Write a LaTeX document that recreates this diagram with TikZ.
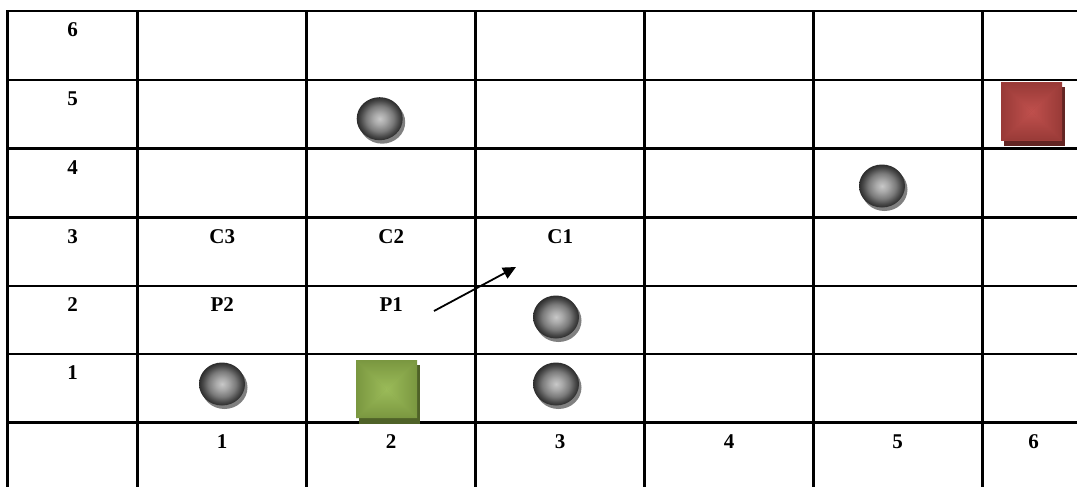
\documentclass[tikz,border=0pt]{standalone}
\usepackage{fontspec}
\setmainfont{Liberation Serif}
\usetikzlibrary{arrows.meta}

% token colours
\definecolor{ballhi}{HTML}{C8C8C8}
\definecolor{ballsoft}{HTML}{A8A8A8}
\definecolor{ballmid}{HTML}{7A7A7A}
\definecolor{ballrim}{HTML}{484848}
\definecolor{balledge}{HTML}{2C2C2C}
\definecolor{ballshadow}{HTML}{808080}
\definecolor{greenedge}{HTML}{7A9740}
\definecolor{greenmid}{HTML}{9BBB59}
\definecolor{greenshadow}{HTML}{4F6228}
\definecolor{rededge}{HTML}{983A37}
\definecolor{redmid}{HTML}{C0504D}
\definecolor{redshadow}{HTML}{632523}

\pgfdeclareradialshading{ballshade}{\pgfpoint{0bp}{0bp}}{%
  color(0bp)=(ballhi); color(7bp)=(ballsoft); color(15bp)=(ballmid);
  color(21bp)=(ballrim); color(25bp)=(balledge); color(50bp)=(balledge)}

% grey sphere with a drop shadow
\newcommand\sphere[2]{%
  \fill[ballshadow] (#1+2.5,#2+3.5) ellipse [x radius=23, y radius=21.5];
  \shade[shading=ballshade] (#1,#2) ellipse [x radius=23, y radius=21.5];
}

% square tile, darker at the rim, with a drop shadow
% #1,#2 centre; #3 rim colour; #4 centre colour; #5 shadow colour
\newcommand\gradtile[5]{%
  \begin{scope}[shift={(#1,#2)}]
    \fill[#5] (-28,-24.5) rectangle (33.5,34.5);
    \fill[#3!50!#4] (-30.5,-29) rectangle (30.5,29);
    \shade[top color=#3, bottom color=#4] (-30.5,-29) -- (30.5,-29) -- (0,0) -- cycle;
    \shade[top color=#4, bottom color=#3] (-30.5,29) -- (30.5,29) -- (0,0) -- cycle;
    \shade[left color=#3, right color=#4] (-30.5,-29) -- (-30.5,29) -- (0,0) -- cycle;
    \shade[left color=#4, right color=#3] (30.5,-29) -- (30.5,29) -- (0,0) -- cycle;
  \end{scope}
}

\tikzset{
  gridline/.style={line width=2.5pt, black},
  lbl/.style={font=\fontsize{21}{23}\selectfont\bfseries, anchor=base, inner sep=0pt},
  moveline/.style={line width=1.8pt, -{Triangle[length=13pt, width=12pt]}},
}

\begin{document}
\begin{tikzpicture}[x=1pt, y=-1pt]
  \useasboundingbox (0,0) rectangle (1077,487);
  \clip (0,0) rectangle (1077,487);
  \fill[white] (0,0) rectangle (1077,487);

  % table rules
  \draw[gridline] (1090,11) -- (7.5,11) -- (7.5,495);
  \foreach \y in {80,148.3,217.3,286,354,422.7}
    \draw[gridline] (7.5,\y) -- (1090,\y);
  \foreach \x in {137.7,306.7,475.7,644.7,813.7,982.7}
    \draw[gridline] (\x,11) -- (\x,495);

  % row numbers
  \node[lbl] (rowlab6) at (72.6,37)    {6};
  \node[lbl] (rowlab5) at (72.6,105.5) {5};
  \node[lbl] (rowlab4) at (72.6,174)   {4};
  \node[lbl] (rowlab3) at (72.6,243)   {3};
  \node[lbl] (rowlab2) at (72.6,311.5) {2};
  \node[lbl] (rowlab1) at (72.6,379.5) {1};

  % column numbers
  \node[lbl] (collab1) at (222.2,448.3) {1};
  \node[lbl] (collab2) at (391.2,448.3) {2};
  \node[lbl] (collab3) at (560.2,448.3) {3};
  \node[lbl] (collab4) at (729.2,448.3) {4};
  \node[lbl] (collab5) at (897.5,448.3) {5};
  \node[lbl] (collab6) at (1033.5,448.3) {6};

  % cell labels
  \node[lbl] (tagC3) at (222.2,243) {C3};
  \node[lbl] (tagC2) at (391.2,243) {C2};
  \node[lbl] (tagC1) at (560.2,243) {C1};
  \node[lbl] (tagP2) at (222.2,311.5) {P2};
  \node[lbl] (tagP1) at (391.2,311.5) {P1};

  % move arrow
  \coordinate (moveStart) at (434,311);
  \coordinate (moveEnd)   at (516,267);
  \draw[moveline] (moveStart) -- (moveEnd);

  % spheres
  \sphere{379.7}{118.7}
  \sphere{882}{186}
  \sphere{556}{317}
  \sphere{222}{384}
  \sphere{556}{384}

  % tiles
  \gradtile{386.5}{389}{greenedge}{greenmid}{greenshadow}
  \gradtile{1031.5}{111.5}{rededge}{redmid}{redshadow}
\end{tikzpicture}
\end{document}
